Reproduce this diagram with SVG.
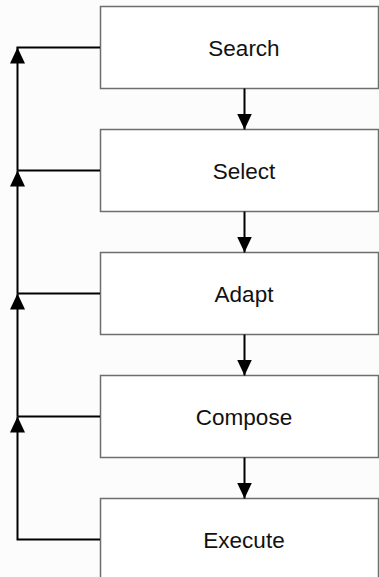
<svg xmlns="http://www.w3.org/2000/svg" width="379" height="577" viewBox="0 0 379 577">
  <style>
    .box { fill: #ffffff; stroke: #6e6e6e; stroke-width: 1.5; }
    .lbl { font-family: "Liberation Sans", Arial, sans-serif; font-size: 22.5px; fill: #111; text-anchor: middle; }
    .con { stroke: #000; stroke-width: 2; fill: none; }
  </style>
  <defs>
    <marker id="ah" viewBox="0 0 16 15" refX="16" refY="7.5" markerWidth="16" markerHeight="15" markerUnits="userSpaceOnUse" orient="auto">
      <path d="M0,0 L16,7.5 L0,15 z" fill="#000"/>
    </marker>
  </defs>
  <rect width="379" height="577" fill="#fcfcfc"/>
  <g id="search"><rect class="box" x="100.5" y="6.5" width="278" height="82"/><text class="lbl" x="244" y="55.5">Search</text></g>
  <g id="select"><rect class="box" x="100.5" y="129.5" width="278" height="82"/><text class="lbl" x="244" y="178.5">Select</text></g>
  <g id="adapt"><rect class="box" x="100.5" y="252.5" width="278" height="82"/><text class="lbl" x="244" y="301.5">Adapt</text></g>
  <g id="compose"><rect class="box" x="100.5" y="375.5" width="278" height="82"/><text class="lbl" x="244" y="424.5">Compose</text></g>
  <g id="execute"><rect class="box" x="100.5" y="498.5" width="278" height="90"/><text class="lbl" x="244" y="547.5">Execute</text></g>
  <g id="connectors">
    <line class="con" x1="244.5" y1="88.5" x2="244.5" y2="129.5" marker-end="url(#ah)"/>
    <line class="con" x1="244.5" y1="211.5" x2="244.5" y2="252.5" marker-end="url(#ah)"/>
    <line class="con" x1="244.5" y1="334.5" x2="244.5" y2="375.5" marker-end="url(#ah)"/>
    <line class="con" x1="244.5" y1="457.5" x2="244.5" y2="498.5" marker-end="url(#ah)"/>
    <path class="con" d="M100,539.5 H17.5 V416.5" marker-end="url(#ah)"/>
    <line class="con" x1="17.5" y1="416.5" x2="17.5" y2="293.5" marker-end="url(#ah)"/>
    <line class="con" x1="17.5" y1="293.5" x2="17.5" y2="170.5" marker-end="url(#ah)"/>
    <line class="con" x1="17.5" y1="170.5" x2="17.5" y2="47.5" marker-end="url(#ah)"/>
    <line class="con" x1="16.5" y1="47.5" x2="100" y2="47.5"/>
    <line class="con" x1="17.5" y1="170.5" x2="100" y2="170.5"/>
    <line class="con" x1="17.5" y1="293.5" x2="100" y2="293.5"/>
    <line class="con" x1="17.5" y1="416.5" x2="100" y2="416.5"/>
  </g>
</svg>
